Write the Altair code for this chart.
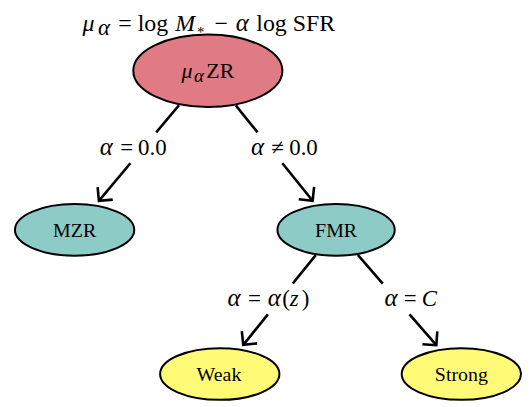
import math
import altair as alt
import pandas as pd

# ---------------- data ----------------
node_ids = ["top", "MZR", "FMR", "Weak", "Strong"]
node_x = [209, 75, 338, 221, 464]
node_y = [70, 230, 230, 375, 375]
node_rx = [75, 60, 59, 60, 60]
node_ry = [36.5, 26, 26, 26, 26]
node_fill = ["#E07A84", "#8DCBC7", "#8DCBC7", "#FFFB77", "#FFFB77"]

edge_from = [0, 0, 2, 2]
edge_to = [1, 2, 3, 4]
edge_label_x = [134, 286, 270, 413]
edge_label_y = [148, 148, 300, 300]

# label pieces: (text, italic, font size, baseline shift px, gap after px)
title_pieces = [("μ", True, 24, 0, 4), ("α", True, 23, 4, 9), ("=", False, 24, 0, 6),
                ("log", False, 24, 0, 7), ("M", True, 24, 0, 2), ("*", False, 15, 6, 10),
                ("−", False, 24, 0, 8), ("α", True, 25, 0, 8), ("log", False, 24, 0, 6),
                ("SFR", False, 24, 0, 0)]
title_center = (210, 30)

node_pieces = [
    [("μ", True, 22, 0, 2), ("α", True, 19, 4, 3), ("ZR", False, 22, 0, 0)],
    [("MZR", False, 20, 0, 0)],
    [("FMR", False, 20, 0, 0)],
    [("Weak", False, 20, 0, 0)],
    [("Strong", False, 20, 0, 0)],
]
edge_pieces = [
    [("α", True, 25, 0, 8), ("=", False, 23, 0, 5), ("0.0", False, 23, 0, 0)],
    [("α", True, 25, 0, 8), ("≠", False, 23, 0, 5), ("0.0", False, 23, 0, 0)],
    [("α", True, 25, 0, 8), ("=", False, 23, 0, 7), ("α", True, 25, 0, 2), ("(", False, 23, 0, 0),
     ("z", True, 23, 0, 3), (")", False, 23, 0, 0)],
    [("α", True, 25, 0, 7), ("=", False, 23, 0, 5), ("C", True, 23, 0, 0)],
]

# ---------------- text measuring (Liberation Serif / Times metrics) ----------------
RM = {' ': 0.25, '=': 0.564, '0': 0.5, '.': 0.25, '(': 0.333, ')': 0.333, 'l': 0.278,
      'o': 0.5, 'g': 0.5, 'S': 0.556, 'F': 0.556, 'R': 0.667, 'Z': 0.611, 'M': 0.889,
      '−': 0.564, '*': 0.5, '≠': 0.564, 'W': 0.944, 'e': 0.444, 'a': 0.444, 'k': 0.5,
      't': 0.278, 'r': 0.333, 'n': 0.5}
IT = {'α': 0.5, 'μ': 0.48, 'z': 0.389, 'C': 0.667, 'M': 0.833}


def width(text, italic, size):
    table = IT if italic else RM
    return sum(table.get(ch, 0.5) for ch in text) * size


def layout(pieces, cx, base_y, group):
    total = sum(width(t, it, s) + g for t, it, s, dy, g in pieces)
    x = cx - total / 2
    rows = []
    for t, it, s, dy, g in pieces:
        rows.append({"x": x, "y": base_y + dy, "t": t, "it": it, "s": s, "g": group})
        x += width(t, it, s) + g
    return rows


text_rows = layout(title_pieces, title_center[0], title_center[1], "title")
for i, p in enumerate(node_pieces):
    text_rows += layout(p, node_x[i], node_y[i] + 7, "node")
for i, p in enumerate(edge_pieces):
    text_rows += layout(p, edge_label_x[i], edge_label_y[i] + 7, "edge")
texts = pd.DataFrame(text_rows)

# ---------------- nodes ----------------
K = 0.5523


def ellipse_path(r):
    return (f"M-1,0C-1,{-K*r:.4f} {-K:.4f},{-r:.4f} 0,{-r:.4f}"
            f"C{K:.4f},{-r:.4f} 1,{-K*r:.4f} 1,0"
            f"C1,{K*r:.4f} {K:.4f},{r:.4f} 0,{r:.4f}"
            f"C{-K:.4f},{r:.4f} -1,{K*r:.4f} -1,0Z")


nodes = pd.DataFrame({
    "x": node_x, "y": node_y,
    "shape": [ellipse_path(ry / rx) for rx, ry in zip(node_rx, node_ry)],
    "size": [(2 * rx) ** 2 for rx in node_rx],
    "fill": node_fill,
})

# ---------------- edges ----------------
seg_rows, head_rows = [], []
GAP_TIP, ARM, BEFORE, AFTER = 5, 14, 16, 15
for e, (a, b) in enumerate(zip(edge_from, edge_to)):
    px, py, cx, cy = node_x[a], node_y[a], node_x[b], node_y[b]
    dx, dy = cx - px, cy - py
    L = math.hypot(dx, dy)
    ux, uy = dx / L, dy / L
    tp = 1 / math.sqrt((ux / (node_rx[a] + 1)) ** 2 + (uy / (node_ry[a] + 1)) ** 2)
    tc = 1 / math.sqrt((ux / (node_rx[b] + 1)) ** 2 + (uy / (node_ry[b] + 1)) ** 2)
    sx, sy = px + tp * ux, py + tp * uy
    tx, ty = cx - (tc + GAP_TIP) * ux, cy - (tc + GAP_TIP) * uy
    ly = edge_label_y[e]
    b1y = ly - BEFORE
    b2y = ly + AFTER
    b1x = px + (b1y - py) * dx / dy
    b2x = px + (b2y - py) * dx / dy
    seg_rows.append({"x": sx, "y": sy, "x2": b1x, "y2": b1y})
    seg_rows.append({"x": b2x, "y": b2y, "x2": tx, "y2": ty})
    for k, ang in enumerate([45, 0, -45]):
        if ang == 0:
            head_rows.append({"id": e, "k": k, "x": tx, "y": ty})
        else:
            r = math.radians(ang)
            vx, vy = -ux, -uy
            rx_ = vx * math.cos(r) - vy * math.sin(r)
            ry_ = vx * math.sin(r) + vy * math.cos(r)
            head_rows.append({"id": e, "k": k, "x": tx + ARM * rx_, "y": ty + ARM * ry_})
segs = pd.DataFrame(seg_rows)
heads = pd.DataFrame(head_rows)

# ---------------- chart ----------------
W, H = 518, 396
xs = alt.Scale(domain=[8, 8 + W], nice=False, zero=False)
ys = alt.Scale(domain=[8, 8 + H], nice=False, zero=False, reverse=True)
X = lambda f="x": alt.X(f"{f}:Q", scale=xs, axis=None)
Y = lambda f="y": alt.Y(f"{f}:Q", scale=ys, axis=None)

lines = alt.Chart(segs).mark_rule(color="black", strokeWidth=2.6).encode(
    x=X(), y=Y(), x2="x2:Q", y2="y2:Q")
arrows = alt.Chart(heads).mark_line(color="black", strokeWidth=2.6, strokeJoin="miter").encode(
    x=X(), y=Y(), detail="id:N", order="k:Q")
ells = alt.Chart(nodes).mark_point(filled=True, opacity=1, stroke="black", strokeWidth=2).encode(
    x=X(), y=Y(),
    shape=alt.Shape("shape:N", scale=None),
    size=alt.Size("size:Q", scale=None),
    fill=alt.Fill("fill:N", scale=None))
txt_rm = alt.Chart(texts).transform_filter("!datum.it").mark_text(
    align="left", baseline="alphabetic", font="Liberation Serif", color="black").encode(
    x=X(), y=Y(), text="t:N", size=alt.Size("s:Q", scale=None))
txt_it = alt.Chart(texts).transform_filter("datum.it").mark_text(
    align="left", baseline="alphabetic", font="Liberation Serif", fontStyle="italic",
    color="black").encode(
    x=X(), y=Y(), text="t:N", size=alt.Size("s:Q", scale=None))

chart = alt.layer(lines, arrows, ells, txt_rm, txt_it).properties(
    width=W, height=H, padding=0, autosize=alt.AutoSizeParams(type="none"),
    background="white"
).configure_view(stroke=None)

chart.save("out.html", embed_options={"renderer": "svg", "actions": False})
